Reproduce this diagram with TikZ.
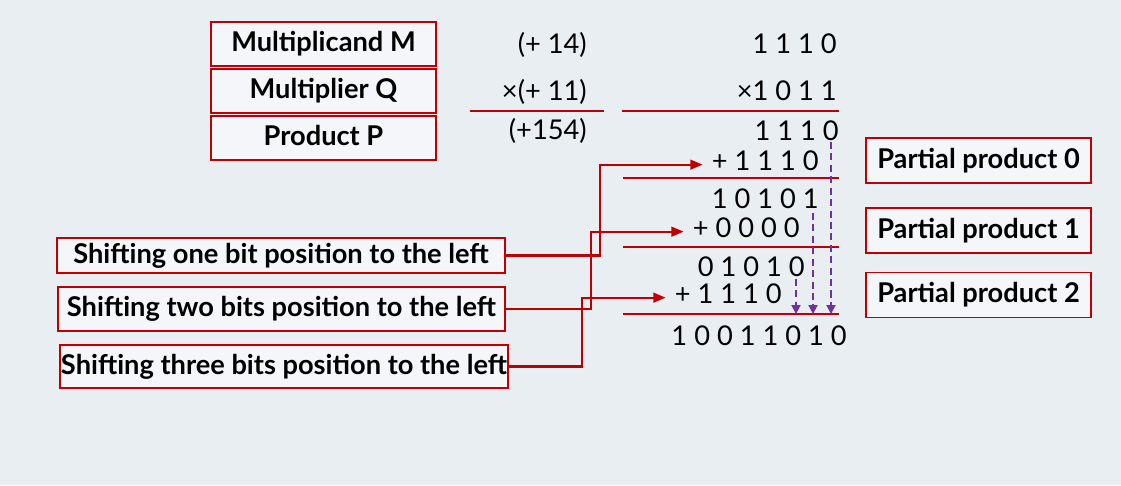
\documentclass[tikz,border=0pt]{standalone}
\usepackage{fontspec}
\setmainfont{Lato}
\usetikzlibrary{arrows.meta}
\definecolor{boxred}{HTML}{C00000}
\definecolor{carrypurple}{HTML}{7030A0}
\definecolor{board}{HTML}{E9EEF3}

\begin{document}
\begin{tikzpicture}[x=0.02cm,y=-0.02cm,
  lbl/.style={draw=boxred,line width=0.9pt,fill=white,fill opacity=0.5,text opacity=1,
    font=\bfseries\fontsize{15.5}{18}\selectfont,inner sep=0pt,minimum height=0.88cm,
    text height=0.95em,text depth=0.05em},
  num/.style={anchor=east,inner sep=0pt,font=\fontsize{15.5}{18}\selectfont,
    text height=0.72em,text depth=0pt,yshift=-1.5pt},
  rule/.style={boxred,line width=1.2pt},
  shiftto/.style={boxred,line width=1.25pt,-{Triangle[length=7pt,width=5.5pt]},shorten >=5pt},
  carry/.style={carrypurple,line width=1.1pt,dashed,dash pattern=on 4pt off 2.5pt,
    -{Triangle[length=5pt,width=5pt]}}]

  % fond
  \fill[board] (0,0) rectangle (1121,485);

  % operandes
  \node[lbl,minimum width=4.5cm] (mcand) at (323.5,44) {Multiplicand M};
  \node[lbl,minimum width=4.5cm] (mplier) at (323.5,91) {Multiplier Q};
  \node[lbl,minimum width=4.5cm] (prod) at (323.5,138) {Product P};

  \node[num] (m) at (587,45) {(+ 14)};
  \node[num] (q) at (587,92) {×(+ 11)};
  \node[num] (p) at (587,131) {(+154)};
  \draw[rule] (470,111) -- (604,111);

  % multiplication binaire
  \node[num] (a0) at (837,45) {1 1 1 0};
  \node[num] (b0) at (837,92) {×1 0 1 1};
  \draw[rule] (622,111) -- (839,111);
  \node[num] (c0) at (839,132) {1 1 1 0};
  \node[num] (c1) at (819,162) {+ 1 1 1 0};
  \draw[rule] (623,178) -- (839,178);
  \node[num] (s1) at (819,200) {1 0 1 0 1};
  \node[num] (c2) at (800,229) {+ 0 0 0 0};
  \draw[rule] (623,247) -- (839,247);
  \node[num] (s2) at (805,268) {0 1 0 1 0};
  \node[num] (c3) at (782,295) {+ 1 1 1 0};
  \draw[rule] (623,314) -- (839,314);
  \coordinate (sumline) at (623,314);
  \node[num] (res) at (847,337) {1 0 0 1 1 0 1 0};

  % bits descendus
  \coordinate (d0) at (831,142);
  \coordinate (d1) at (813,213);
  \coordinate (d2) at (796,279);
  \draw[carry] (d0) -- (d0 |- sumline);
  \draw[carry] (d1) -- (d1 |- sumline);
  \draw[carry] (d2) -- (d2 |- sumline);

  % produits partiels
  \node[lbl,minimum width=4.5cm,minimum height=0.9cm] (pp0) at (978.5,160.5) {Partial product 0};
  \node[lbl,minimum width=4.5cm,minimum height=0.9cm] (pp1) at (978.5,230.5) {Partial product 1};
  \node[lbl,minimum width=4.5cm,minimum height=0.9cm] (pp2) at (978.5,295) {Partial product 2};

  % decalages
  \node[lbl,minimum width=8.96cm,minimum height=0.7cm] (sh1) at (281,255.5) {Shifting one bit position to the left};
  \node[lbl,minimum width=8.94cm] (sh2) at (281.5,309) {Shifting two bits position to the left};
  \node[lbl,minimum width=8.96cm,minimum height=0.86cm] (sh3) at (284,366.5) {Shifting three bits position to the left};

  \coordinate (k1) at (600,0);
  \coordinate (k2) at (591,0);
  \coordinate (k3) at (582,0);
  \draw[shiftto] (sh1.east) -- (sh1.east -| k1) |- (c1.west);
  \draw[shiftto] (sh2.east) -- (sh2.east -| k2) |- (c2.west);
  \draw[shiftto] (sh3.east) -- (sh3.east -| k3) |- (c3.west);
\end{tikzpicture}
\end{document}
